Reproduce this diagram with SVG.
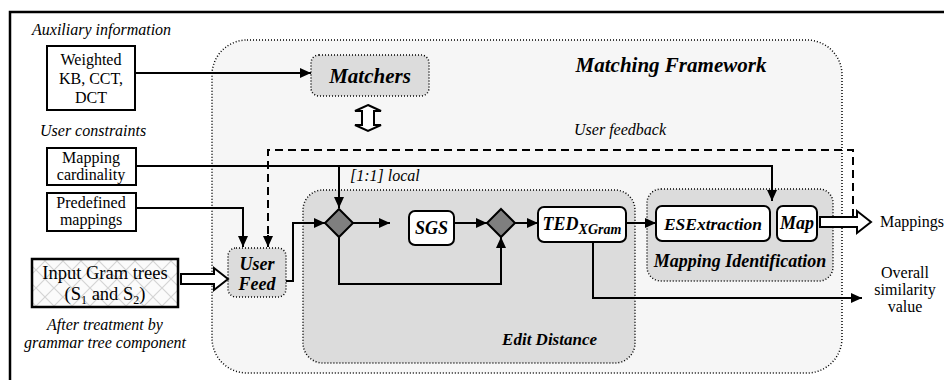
<svg xmlns="http://www.w3.org/2000/svg" width="944" height="380" viewBox="0 0 944 380" font-family="'Liberation Serif', 'Times New Roman', serif">
<style>
text{font-family:'Liberation Serif', 'Times New Roman', serif;fill:#000}
.it{font-style:italic;font-size:16px}
.rg{font-size:16px}
.bi{font-style:italic;font-weight:bold}
.box{fill:#fff;stroke:#000;stroke-width:2}
.rbox{fill:#fff;stroke:#000;stroke-width:2}
.gray{fill:#dcdcdc;stroke:#000;stroke-width:1.5;stroke-dasharray:1 2}
.ln{fill:none;stroke:#000;stroke-width:2}
.dash{fill:none;stroke:#000;stroke-width:2;stroke-dasharray:8 5}
.hol{fill:#fff;stroke:#000;stroke-width:2;stroke-linejoin:miter}
.dia{fill:#7f7f7f;stroke:#000;stroke-width:2}
</style>
<defs>
<marker id="ah" markerUnits="userSpaceOnUse" markerWidth="11" markerHeight="10" refX="11" refY="5" orient="auto">
<path d="M0,0 L11,5 L0,10 z" fill="#000"/>
</marker>
<pattern id="hatch" patternUnits="userSpaceOnUse" width="18" height="18">
<rect width="18" height="18" fill="#fbfbfb"/>
<path d="M0,0 L18,18 M18,0 L0,18" stroke="#d4d4d4" stroke-width="1.2"/>
</pattern>
</defs>

<path d="M10,380 V12 H944" fill="none" stroke="#000" stroke-width="2.5"/>

<g id="framework">
<rect x="212" y="40" width="630" height="333" rx="35" fill="#f6f6f6" stroke="#000" stroke-width="1.5" stroke-dasharray="1 2"/>
<text x="671" y="72" class="bi" font-size="21" text-anchor="middle">Matching Framework</text>
</g>

<g id="labels">
<text x="32" y="35" class="it">Auxiliary information</text>
<text x="40" y="136" class="it">User constraints</text>
<text x="620" y="135" class="it" text-anchor="middle">User feedback</text>
<text x="350" y="181" class="it">[1:1] local</text>
<text x="353" y="212" class="it">[27]</text>
<text x="346" y="302" class="it">[1:1] local and global</text>
<text x="105" y="330" class="it" text-anchor="middle">After treatment by</text>
<text x="105" y="348" class="it" text-anchor="middle">grammar tree component</text>
<text x="880" y="227" class="rg">Mappings</text>
<text x="905" y="278" class="rg" text-anchor="middle">Overall</text>
<text x="905" y="295" class="rg" text-anchor="middle">similarity</text>
<text x="905" y="312" class="rg" text-anchor="middle">value</text>
</g>

<g id="weighted">
<rect x="47" y="46" width="88" height="64" class="box"/>
<text x="91" y="65" class="rg" text-anchor="middle">Weighted</text>
<text x="91" y="84" class="rg" text-anchor="middle">KB, CCT,</text>
<text x="91" y="103" class="rg" text-anchor="middle">DCT</text>
</g>

<g id="cardinality">
<rect x="47" y="148" width="89" height="37" class="box"/>
<text x="91" y="163" class="rg" text-anchor="middle">Mapping</text>
<text x="91" y="180" class="rg" text-anchor="middle">cardinality</text>
</g>

<g id="predefined">
<rect x="47" y="193" width="89" height="38" class="box"/>
<text x="91" y="208" class="rg" text-anchor="middle">Predefined</text>
<text x="91" y="225" class="rg" text-anchor="middle">mappings</text>
</g>

<g id="input">
<rect x="32" y="259" width="146" height="48" fill="url(#hatch)" stroke="#000" stroke-width="2.5"/>
<text x="105" y="279" font-size="18.5" text-anchor="middle">Input Gram trees</text>
<text x="105" y="300" font-size="18.5" text-anchor="middle">(S<tspan dy="4" font-size="12">1</tspan><tspan dy="-4"> and S</tspan><tspan dy="4" font-size="12">2</tspan><tspan dy="-4">)</tspan></text>
</g>

<g id="matchers">
<rect x="311" y="55" width="118" height="41" rx="8" class="gray"/>
<text x="370" y="83" class="bi" font-size="21" text-anchor="middle">Matchers</text>
</g>

<g id="userfeed">
<rect x="228" y="248" width="58" height="49" rx="8" class="gray"/>
<text x="257" y="270" class="bi" font-size="18" text-anchor="middle">User</text>
<text x="257" y="290" class="bi" font-size="18" text-anchor="middle">Feed</text>
</g>

<g id="editdistance">
<rect x="303" y="190" width="332" height="173" rx="20" class="gray"/>
<text x="597" y="345" class="bi" font-size="17" text-anchor="end">Edit Distance</text>
</g>

<g id="diamond1">
<polygon points="339,209 353,223 339,237 325,223" class="dia"/>
</g>

<g id="sgs">
<rect x="409" y="211" width="45" height="34" rx="6" class="rbox"/>
<text x="431.5" y="234" class="bi" font-size="18" text-anchor="middle">SGS</text>
</g>

<g id="diamond2">
<polygon points="501,209 515,223 501,237 487,223" class="dia"/>
</g>

<g id="ted">
<rect x="538" y="207" width="88" height="35" rx="6" class="rbox"/>
<text x="582" y="230" class="bi" font-size="18" text-anchor="middle">TED<tspan dy="4" font-size="14">XGram</tspan></text>
</g>

<g id="mappingidentification">
<rect x="647" y="189" width="186" height="92" rx="14" class="gray"/>
<text x="740" y="267" class="bi" font-size="18" text-anchor="middle">Mapping Identification</text>
</g>

<g id="esextraction">
<rect x="656" y="206" width="114" height="35" rx="6" class="rbox"/>
<text x="713" y="230" class="bi" font-size="17.5" text-anchor="middle">ESExtraction</text>
</g>

<g id="map">
<rect x="777" y="206" width="40" height="35" rx="6" class="rbox"/>
<text x="797" y="229" class="bi" font-size="18" text-anchor="middle">Map</text>
</g>

<g id="connectors">
<path d="M135,73 H311" class="ln" marker-end="url(#ah)"/>
<path d="M136,166 H772 V201" class="ln" marker-end="url(#ah)"/>
<path d="M339,166 V208" class="ln" marker-end="url(#ah)"/>
<path d="M136,208 H243 V247" class="ln" marker-end="url(#ah)"/>
<path d="M853,217 V150 H268 V247" class="dash"/>
<path d="M268,235 V247" class="ln" marker-end="url(#ah)"/>
<path d="M286,281 H293 V223 H325" class="ln" marker-end="url(#ah)"/>
<path d="M353,223 H390" class="ln" marker-end="url(#ah)"/>
<path d="M454,223 H487" class="ln" marker-end="url(#ah)"/>
<path d="M339,237 V284 H501 V237" class="ln" marker-end="url(#ah)"/>
<path d="M515,223 H538" class="ln" marker-end="url(#ah)"/>
<path d="M626,223 H656" class="ln" marker-end="url(#ah)"/>
<path d="M593,242 V298 H862" class="ln" marker-end="url(#ah)"/>
<polygon points="181,274 214,274 214,268 228,279 214,290 214,284 181,284" class="hol"/>
<polygon points="820,217 857,217 857,211 871,222 857,233 857,227 820,227" class="hol"/>
<polygon points="368,105 381,111 374,111 374,125 381,125 368,131 355,125 362,125 362,111 355,111" class="hol"/>
</g>
</svg>
